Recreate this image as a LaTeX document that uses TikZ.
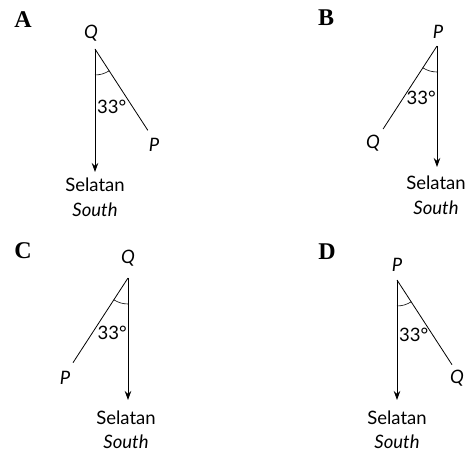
\documentclass[tikz,border=0pt]{standalone}
\usepackage{fontspec}
\setmainfont{Lato}
\newfontfamily\boldserif{Liberation Serif}
\usetikzlibrary{arrows.meta,calc}
\tikzset{
  ray/.style={line width=0.8pt},
  southarrow/.style={line width=0.8pt,-{Stealth[length=9pt,width=6.5pt]}},
  anglearc/.style={line width=0.6pt},
  lbl/.style={inner sep=0pt,font=\fontsize{18.5}{20}\selectfont\itshape},
  ang/.style={inner sep=0pt,font=\fontsize{18.5}{20}\selectfont},
  dirtxt/.style={inner sep=0pt,font=\fontsize{18.5}{20}\selectfont},
  dirit/.style={inner sep=0pt,font=\fontsize{18.5}{20}\selectfont\itshape},
  panel/.style={inner sep=0pt,font=\fontsize{24}{26}\selectfont\boldserif\bfseries}
}
\begin{document}
\begin{tikzpicture}[x=1pt,y=1pt]
\useasboundingbox (0,0) rectangle (471,452);
% ---------- Panel A ----------
\node[panel] (la) at (23,432) {A};
\coordinate (va) at (95,403);
\coordinate (sa) at (95,280);
\coordinate (ea) at ($(va)+(303:97)$);
\draw[southarrow] (va) -- (sa);
\draw[ray] (va) -- (ea);
\draw[anglearc] ($(va)+(270:26)$) arc[start angle=270,end angle=303,radius=26];
\node[lbl] (qa) at (91,419) {Q};
\node[lbl] (pa) at (154,307) {P};
\node[ang,anchor=west] (anga) at (97,345) {33°};
\node[dirtxt] (sela) at (95,267) {Selatan};
\node[dirit] (soua) at (95,242) {South};
% ---------- Panel B ----------
\node[panel] (lb) at (326,434) {B};
\coordinate (vb) at (437,406);
\coordinate (sb) at (437,285);
\coordinate (eb) at ($(vb)+(237:99)$);
\draw[southarrow] (vb) -- (sb);
\draw[ray] (vb) -- (eb);
\draw[anglearc] ($(vb)+(237:26)$) arc[start angle=237,end angle=270,radius=26];
\node[lbl] (pb) at (438,420) {P};
\node[lbl] (qb) at (373,309) {Q};
\node[ang,anchor=east] (angb) at (436,354) {33°};
\node[dirtxt] (selb) at (436,269) {Selatan};
\node[dirit] (soub) at (436,244) {South};
% ---------- Panel C ----------
\node[panel] (lc) at (23,201) {C};
\coordinate (vc) at (128,174);
\coordinate (sc) at (128,52);
\coordinate (ec) at ($(vc)+(237:101)$);
\draw[southarrow] (vc) -- (sc);
\draw[ray] (vc) -- (ec);
\draw[anglearc] ($(vc)+(237:26)$) arc[start angle=237,end angle=270,radius=26];
\node[lbl] (qc) at (128,194) {Q};
\node[lbl] (pc) at (65,74) {P};
\node[ang,anchor=east] (angc) at (127,119) {33°};
\node[dirtxt] (selc) at (126,34) {Selatan};
\node[dirit] (souc) at (126,10) {South};
% ---------- Panel D ----------
\node[panel] (ld) at (327,200) {D};
\coordinate (vd) at (397,172);
\coordinate (sd) at (397,52);
\coordinate (ed) at ($(vd)+(303:101)$);
\draw[southarrow] (vd) -- (sd);
\draw[ray] (vd) -- (ed);
\draw[anglearc] ($(vd)+(270:26)$) arc[start angle=270,end angle=303,radius=26];
\node[lbl] (pd) at (397,187) {P};
\node[lbl] (qd) at (457,74) {Q};
\node[ang,anchor=west] (angd) at (399,117) {33°};
\node[dirtxt] (seld) at (397,34) {Selatan};
\node[dirit] (soud) at (397,10) {South};
\end{tikzpicture}
\end{document}
